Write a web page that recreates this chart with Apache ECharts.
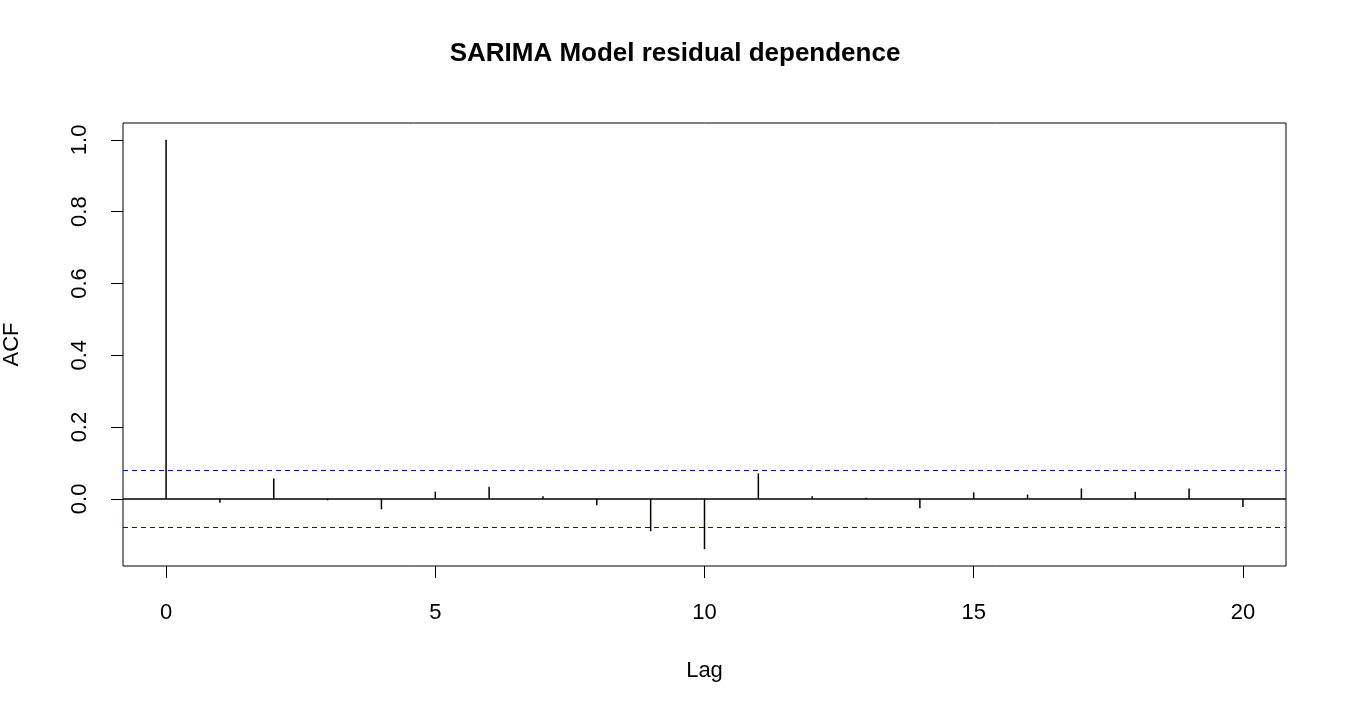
<!DOCTYPE html>
<html><head><meta charset="utf-8">
<script src="https://cdn.jsdelivr.net/npm/echarts@6/dist/echarts.min.js"></script>
<style>html,body{margin:0;padding:0;background:#fff}#c{width:1350px;height:720px}</style>
</head><body><div id="c"></div>
<script>
const lags = [0,1,2,3,4,5,6,7,8,9,10,11,12,13,14,15,16,17,18,19,20];
const acf = [1.0,-0.011,0.057,-0.004,-0.029,0.020,0.034,0.007,-0.018,-0.090,-0.140,0.071,0.007,0.003,-0.026,0.018,0.012,0.029,0.020,0.029,-0.023];
const ciBound = 0.078;
const xTicks = [0,5,10,15,20];
const yTicks = [0,0.2,0.4,0.6,0.8,1.0];
const chart = echarts.init(document.getElementById('c'));
const font = 'Liberation Sans, Arial, sans-serif';
chart.setOption({
  animation:false,
  title:{text:'SARIMA Model residual dependence',left:'center',top:36,textStyle:{fontFamily:font,fontSize:26,fontWeight:'bold',color:'#000'}},
  grid:{left:123,right:64,top:123,bottom:154,containLabel:false,outerBoundsMode:'none',show:true,borderColor:'#000',borderWidth:1},
  xAxis:{type:'value',min:-0.8,max:20.8,name:'Lag',nameLocation:'middle',nameGap:94,
    nameTextStyle:{fontFamily:font,fontSize:22,color:'#000'},
    axisLine:{show:false,onZero:false},splitLine:{show:false},
    axisTick:{show:true,length:12,inside:false,customValues:xTicks,lineStyle:{color:'#000'}},
    axisLabel:{customValues:xTicks,fontFamily:font,fontSize:22,color:'#000',margin:36}},
  yAxis:{type:'value',min:-0.187,max:1.047,name:'ACF',nameLocation:'middle',nameGap:100,
    nameTextStyle:{fontFamily:font,fontSize:22,color:'#000'},
    axisLine:{show:false,onZero:false},splitLine:{show:false},
    axisTick:{show:true,length:12,customValues:yTicks,lineStyle:{color:'#000'}},
    axisLabel:{customValues:yTicks,rotate:90,fontFamily:font,fontSize:22,color:'#000',margin:32,
      formatter:v=>v.toFixed(1)}},
  series:[
    {type:'bar',data:lags.map((l,i)=>[l,acf[i]]),barWidth:1.5,itemStyle:{color:'#000'},
      markLine:{silent:true,symbol:'none',label:{show:false},lineStyle:{color:'#000',type:'solid',width:1.5},
        data:[{yAxis:0}]}},
    {type:'line',data:[],markLine:{silent:true,symbol:'none',label:{show:false},
        lineStyle:{color:'#0000ff',type:[5,4],width:1},
        data:[{yAxis:ciBound},{yAxis:-ciBound}]}}
  ]
});
</script></body></html>
